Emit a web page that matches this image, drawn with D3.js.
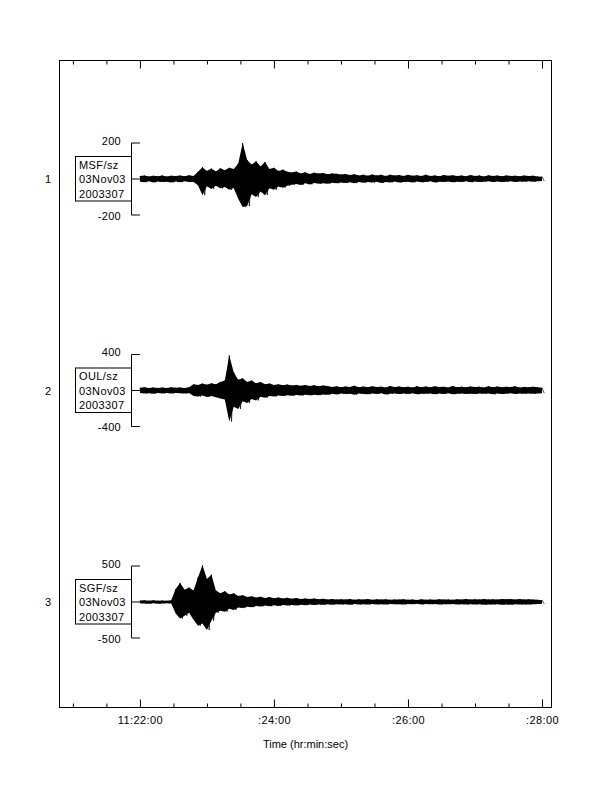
<!DOCTYPE html>
<html><head><meta charset="utf-8">
<script src="https://cdn.jsdelivr.net/npm/d3@7"></script>
<style>body{margin:0;background:#fff}svg{display:block}text{font-family:"Liberation Sans",Arial,Helvetica,sans-serif;font-size:11px;fill:#000}</style>
</head><body><svg id="c" width="612" height="792"></svg>
<script>
// seconds relative to 11:22:00
const majorTicks = [0, 120, 240, 360];
const majorLabels = ["11:22:00", ":24:00", ":26:00", ":28:00"];
const minorTicks = [-60, -30, 30, 60, 90, 150, 180, 210, 270, 300, 330];
const stations = ["MSF/sz", "OUL/sz", "SGF/sz"];
const dateLine = "03Nov03";
const julLine = "2003307";
const traceNums = ["1", "2", "3"];
const ampScale = [200, 400, 500];
const sampleStep = 4; // seconds between envelope samples

const t1max = [16,19,14,18,15,20,14,18,16,19,15,21,16,
 40,65,45,58,42,60,48,62,55,85,
 200,105,80,98,70,95,55,62,45,52,40,
 36,42,30,38,28,35,30,33,26,31,29,25,28,
 22,27,19,24,18,25,20,23,17,24,19,22,16,23,18,21,16,24,17,20,15,22,18,21,16,19,15,22,17,20,14,21,16,19,15,20,17,18,15,19,16,18,14,13];
const t1min = [-15,-18,-13,-19,-14,-17,-15,-19,-14,-18,-13,-17,-16,
 -35,-90,-40,-55,-38,-52,-45,-60,-50,-110,
 -155,-150,-85,-100,-70,-90,-52,-60,-42,-48,-38,
 -32,-28,-34,-24,-30,-22,-27,-23,-26,-21,-24,-20,-22,
 -18,-23,-16,-21,-17,-20,-15,-22,-16,-19,-14,-20,-17,-15,-19,-14,-18,-16,-13,-19,-15,-17,-14,-18,-15,-16,-13,-18,-14,-17,-15,-13,-17,-14,-16,-15,-13,-16,-14,-15,-13,-15,-12,-11];
const t2max = [30,36,27,34,29,33,28,37,30,34,28,36,
 70,62,78,65,80,70,95,110,390,200,
 120,135,95,110,80,95,70,78,60,70,
 58,66,55,62,52,60,50,58,48,56,50,
 40,48,36,45,38,52,37,44,35,47,39,43,34,50,38,45,36,42,33,48,37,44,35,46,38,41,34,49,36,43,35,45,38,42,34,47,37,44,35,41,38,46,34,40,36,42,35,30];
const t2min = [-28,-33,-30,-35,-27,-32,-29,-34,-28,-31,-33,-29,
 -60,-68,-55,-72,-62,-75,-90,-100,-345,-180,
 -205,-120,-140,-95,-110,-70,-80,-60,-68,-55,
 -60,-52,-58,-50,-56,-48,-54,-46,-52,-45,-48,
 -36,-44,-33,-40,-35,-47,-32,-38,-42,-34,-39,-31,-45,-36,-33,-40,-34,-38,-31,-43,-35,-37,-32,-41,-34,-39,-30,-42,-36,-33,-38,-35,-40,-32,-37,-34,-43,-33,-38,-35,-31,-39,-34,-36,-32,-37,-33,-28];
const t3max = [20,24,18,23,19,22,18,23,
 180,265,170,200,160,340,510,320,380,
 160,120,150,105,120,85,95,70,80,
 62,72,55,68,52,62,48,58,45,55,42,50,40,47,
 38,44,34,41,33,39,35,42,32,38,34,40,31,37,33,39,30,36,33,38,31,35,29,37,32,34,30,38,33,36,31,37,34,40,33,38,35,42,36,39,34,41,37,43,35,40,36,38,33,30,26];
const t3min = [-19,-22,-24,-18,-23,-20,-19,-22,
 -160,-230,-190,-150,-245,-330,-300,-390,-260,
 -150,-120,-135,-95,-110,-75,-85,-65,-72,
 -55,-62,-48,-60,-45,-55,-42,-50,-40,-47,-38,-44,-36,-42,
 -34,-39,-31,-37,-30,-35,-32,-38,-29,-34,-31,-36,-28,-33,-30,-35,-27,-32,-30,-34,-28,-31,-26,-33,-29,-31,-27,-34,-30,-32,-28,-33,-31,-36,-30,-34,-32,-37,-33,-35,-31,-37,-34,-38,-32,-36,-33,-34,-30,-27,-24];
const traceMax = [t1max, t2max, t3max];
const traceMin = [t1min, t2min, t3min];

const svg = d3.select("#c");
const L = 59.5, R = 551.5, T = 60.5, B = 707.5;
const x = d3.scaleLinear().domain([-72, 368.5]).range([L, R]);
const cyScale = d3.scalePoint().domain(traceNums).range([179, 602]);
const halfH = 36;

svg.append("rect").attr("x", L).attr("y", T).attr("width", R - L).attr("height", B - T)
  .attr("fill", "none").attr("stroke", "#000").attr("stroke-width", 1);

function styleAxis(g) { g.select(".domain").remove(); g.selectAll("line").attr("stroke", "#000"); }
const fmt = d => majorLabels[majorTicks.indexOf(d)];
svg.append("g").attr("transform", `translate(0,${B})`)
  .call(d3.axisBottom(x).tickValues(majorTicks).tickSizeInner(-8).tickSizeOuter(0).tickPadding(9).tickFormat(fmt))
  .call(styleAxis)
  .call(g => g.selectAll("text").style("font-family", '"Liberation Sans",Arial,sans-serif').style("font-size", "11px").attr("fill", "#000").style("letter-spacing", "0.4px"));
svg.append("g").attr("transform", `translate(0,${B})`)
  .call(d3.axisBottom(x).tickValues(minorTicks).tickSizeInner(-4).tickSizeOuter(0).tickFormat(""))
  .call(styleAxis);
svg.append("g").attr("transform", `translate(0,${T})`)
  .call(d3.axisTop(x).tickValues(majorTicks).tickSizeInner(-8).tickSizeOuter(0).tickFormat(""))
  .call(styleAxis);
svg.append("g").attr("transform", `translate(0,${T})`)
  .call(d3.axisTop(x).tickValues(minorTicks).tickSizeInner(-4).tickSizeOuter(0).tickFormat(""))
  .call(styleAxis);

svg.append("text").attr("x", 305.5).attr("y", 747.5).attr("text-anchor", "middle").text("Time (hr:min:sec)");

const x0 = x(0);
const bx = 131.5;
traceNums.forEach((n, i) => {
  const cy = cyScale(n);
  const s = ampScale[i];
  const y = d3.scaleLinear().domain([-s, s]).range([cy + halfH, cy - halfH]);
  const g = svg.append("g");
  g.append("text").attr("x", 48).attr("y", cy + 4).attr("text-anchor", "middle").text(n);
  g.append("path").attr("fill", "none").attr("stroke", "#000").attr("stroke-width", 1)
    .attr("d", `M${x0},${y(s)}H${bx}V${y(-s)}H${x0}M${bx},${y(0)}H${x0}`);
  g.append("text").attr("x", 121).attr("y", y(s) + 1.5).attr("text-anchor", "end").style("letter-spacing", "0.3px").text(String(s));
  g.append("text").attr("x", 121).attr("y", y(-s) + 4.5).attr("text-anchor", "end").style("letter-spacing", "0.3px").text(String(-s));
  g.append("rect").attr("x", 75.5).attr("y", cy - 22.5).attr("width", bx - 75.5).attr("height", 44.5)
    .attr("fill", "#fff").attr("stroke", "#000").attr("stroke-width", 1);
  [stations[i], dateLine, julLine].forEach((t, j) => {
    g.append("text").attr("x", 79).attr("y", cy - 10.5 + j * 14.5).style("letter-spacing", "0.4px").text(t);
  });
  const pts = traceMax[i].map((v, k) => ({ t: k * sampleStep, hi: v, lo: traceMin[i][k] }));
  const area = d3.area().x(d => x(d.t)).y0(d => y(d.lo)).y1(d => y(d.hi));
  g.append("path").datum(pts).attr("d", area).attr("fill", "#000").attr("stroke", "none");
  const zz = [];
  pts.forEach(d => { zz.push([x(d.t), y(d.hi)]); zz.push([x(d.t + sampleStep / 2), y(d.lo)]); });
  g.append("path").attr("d", d3.line()(zz)).attr("fill", "none").attr("stroke", "#000").attr("stroke-width", 0.7);
});
</script></body></html>
